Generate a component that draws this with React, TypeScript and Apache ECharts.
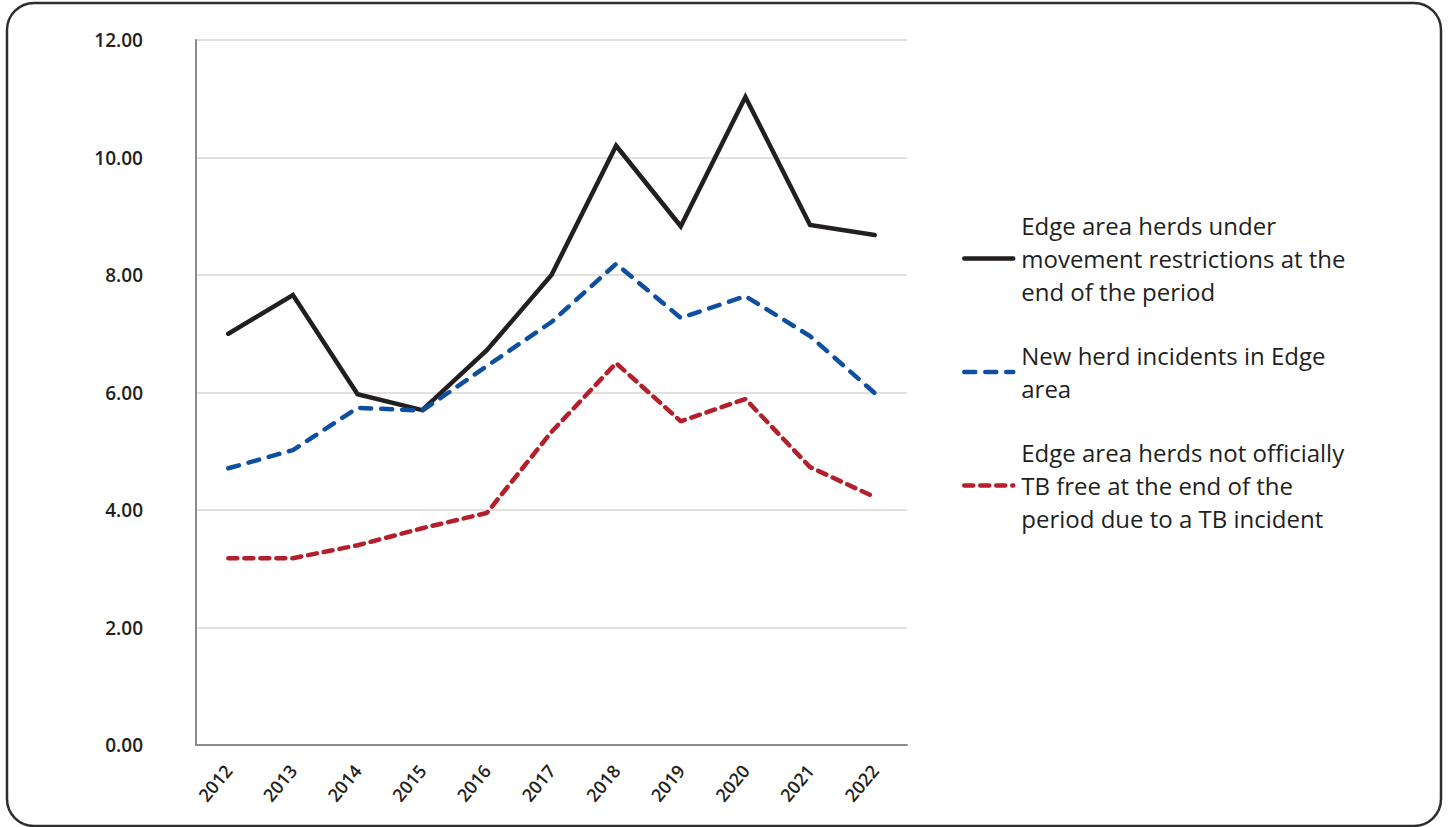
import React, { useEffect, useRef } from "react";
import * as echarts from "echarts";

const years = ["2012", "2013", "2014", "2015", "2016", "2017", "2018", "2019", "2020", "2021", "2022"];
const restricted = [7.0, 7.66, 5.97, 5.7, 6.72, 8.0, 10.2, 8.83, 11.03, 8.85, 8.68];
const newIncidents = [4.71, 5.02, 5.74, 5.69, 6.45, 7.2, 8.19, 7.27, 7.64, 6.96, 5.99];
const notFree = [3.18, 3.18, 3.4, 3.69, 3.95, 5.33, 6.5, 5.51, 5.89, 4.73, 4.22];

const seriesNames = [
  "Edge area herds under\nmovement restrictions at the\nend of the period",
  "New herd incidents in Edge\narea",
  "Edge area herds not officially\nTB free at the end of the\nperiod due to a TB incident",
];

const FONT = "'Open Sans', 'Noto Sans', sans-serif";

export default function App() {
  const ref = useRef<HTMLDivElement>(null);
  useEffect(() => {
    document.body.style.margin = "0";
    const chart = echarts.init(ref.current!, null, { renderer: "svg" });
    chart.setOption({
      animation: false,
      backgroundColor: "#ffffff",
      textStyle: { fontFamily: FONT },
      graphic: [
        {
          type: "rect",
          shape: { x: 7, y: 3, width: 1434, height: 823, r: 27 },
          style: { fill: "none", stroke: "#2e2e2e", lineWidth: 2.5 },
          silent: true,
          z: -1,
        },
      ],
      grid: { left: 196, right: 543, top: 40, bottom: 82, containLabel: false },
      xAxis: {
        type: "category",
        data: years,
        boundaryGap: true,
        axisLine: { show: true, lineStyle: { color: "#8c8c8c", width: 2 } },
        axisTick: { show: false },
        axisLabel: {
          rotate: 50,
          margin: 22,
          color: "#231f20",
          fontSize: 18,
          fontWeight: 600,
          fontFamily: FONT,
          interval: 0,
        },
        splitLine: { show: false },
      },
      yAxis: {
        type: "value",
        min: 0,
        max: 12,
        interval: 2,
        axisLine: { show: true, lineStyle: { color: "#8c8c8c", width: 2 } },
        axisTick: { show: false },
        axisLabel: {
          margin: 53,
          color: "#231f20",
          fontSize: 19,
          fontWeight: 600,
          fontFamily: FONT,
          formatter: (v: number) => v.toFixed(2),
        },
        splitLine: { show: true, lineStyle: { color: "#e2dfdc", width: 2 } },
      },
      legend: {
        orient: "vertical",
        left: 962,
        top: 209,
        padding: 0,
        itemWidth: 49,
        itemHeight: 14,
        itemGap: 31,
        itemStyle: { opacity: 0 },
        lineStyle: { width: 4.5 },
        textStyle: {
          fontFamily: FONT,
          fontSize: 24,
          lineHeight: 33,
          color: "#231f20",
          padding: [0, 0, 0, 3],
        },
        data: seriesNames,
      },
      series: [
        {
          name: seriesNames[0],
          type: "line",
          data: restricted,
          symbol: "none",
          lineStyle: { color: "#231f20", width: 4.5, cap: "round", join: "miter" },
          itemStyle: { color: "#231f20" },
        },
        {
          name: seriesNames[1],
          type: "line",
          data: newIncidents,
          symbol: "none",
          lineStyle: { color: "#0f4f9f", width: 4.5, type: [11, 10], cap: "round" },
          itemStyle: { color: "#0f4f9f" },
        },
        {
          name: seriesNames[2],
          type: "line",
          data: notFree,
          symbol: "none",
          lineStyle: { color: "#b31f2a", width: 4.5, type: [9, 7], cap: "round" },
          itemStyle: { color: "#b31f2a" },
        },
      ],
    });
    return () => chart.dispose();
  }, []);
  return (
    <div
      ref={ref}
      style={{ position: "absolute", left: 0, top: 0, width: 1450, height: 827 }}
    />
  );
}
